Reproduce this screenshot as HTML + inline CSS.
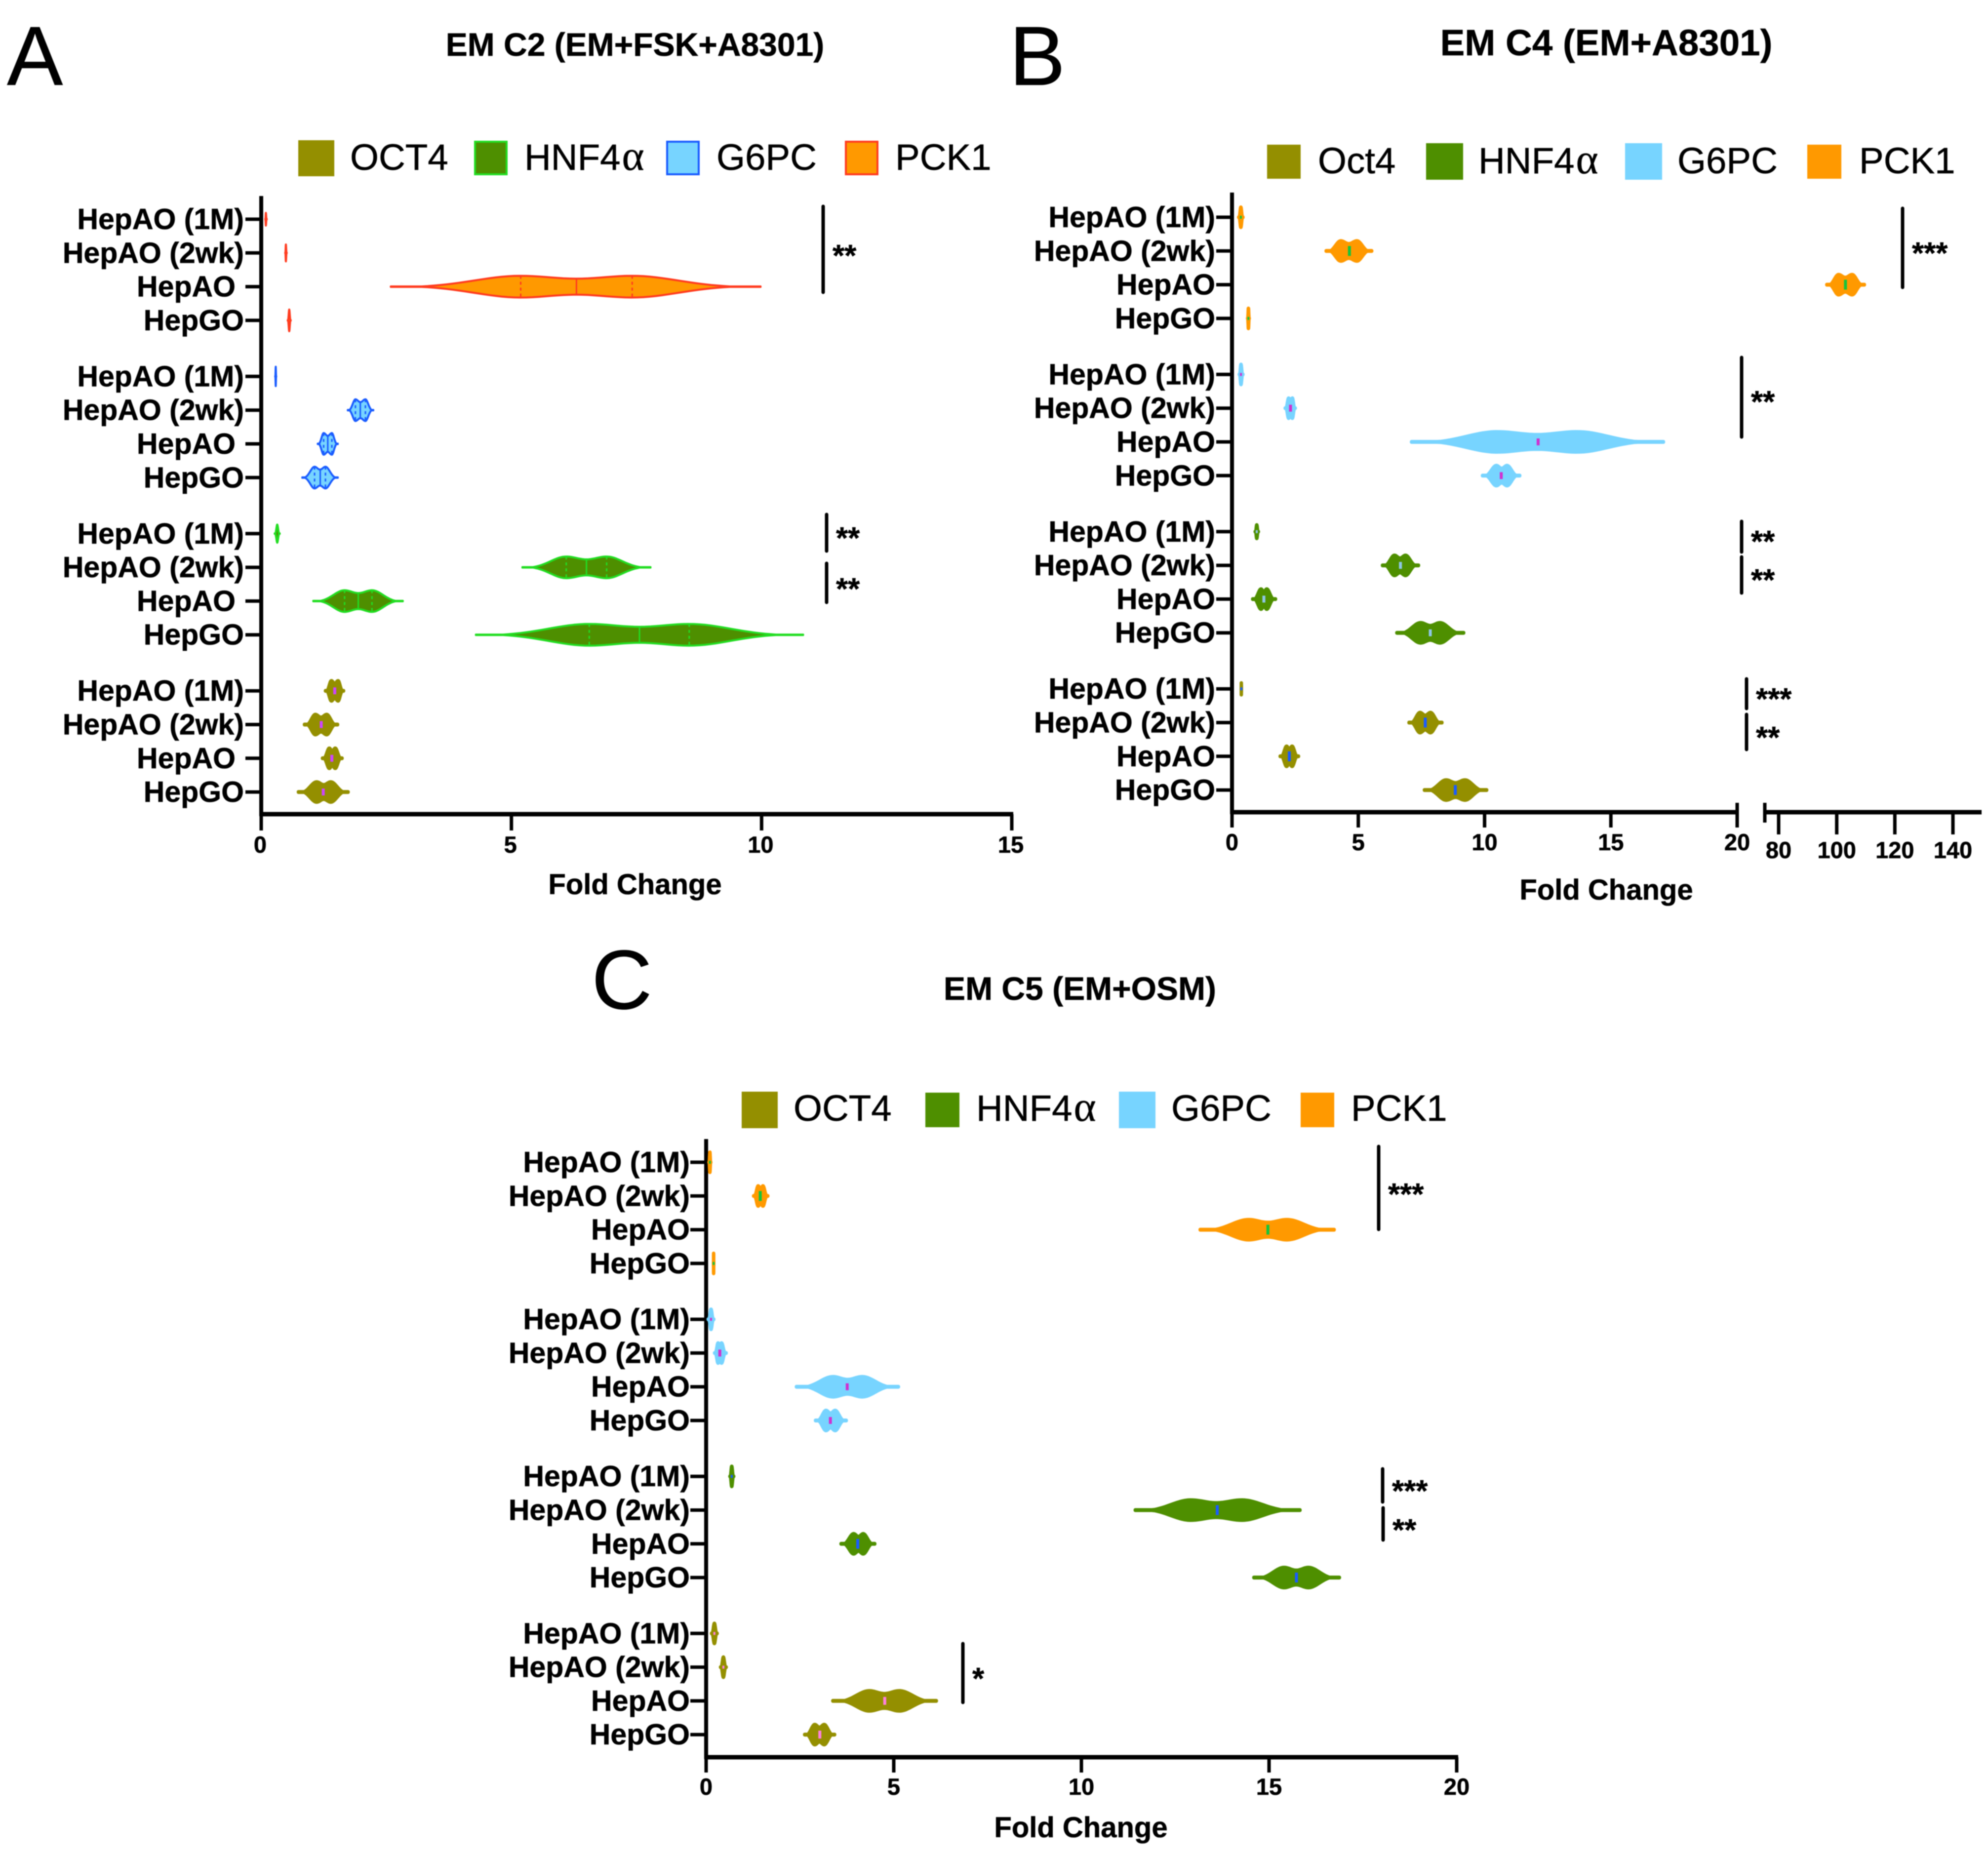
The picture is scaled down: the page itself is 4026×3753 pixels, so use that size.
<!DOCTYPE html>
<html lang="en">
<head>
<meta charset="utf-8">
<title>Fold change violin plots</title>
<style>
html,body{margin:0;padding:0;background:#fff;}
svg{display:block;filter:blur(1px);}
text{font-family:"Liberation Sans",sans-serif;fill:#000;stroke:#000;stroke-width:0.6px;}
.title{font-weight:bold;font-size:66px;text-anchor:middle;}
.panel{font-size:170px;}
.leg{font-size:74.5px;}
.a{font-family:"Liberation Serif",serif;font-size:86px;}
</style>
</head>
<body>
<svg id="fig" width="4026" height="3753" viewBox="0 0 4026 3753" xmlns="http://www.w3.org/2000/svg">
<rect width="4026" height="3753" fill="#fff"/>

<text class="panel" x="14" y="172">A</text>
<text class="panel" x="2044" y="172">B</text>
<text class="panel" x="1198" y="2043">C</text>

<text class="title" x="1286" y="113">EM C2 (EM+FSK+A8301)</text>
<text class="title" x="3253" y="112" style="font-size:74.5px">EM C4 (EM+A8301)</text>
<text class="title" x="2187" y="2025">EM C5 (EM+OSM)</text>

<g>
  <rect x="604" y="284" width="73" height="73" fill="#948f00"/>
  <text class="leg" x="709" y="344">OCT4</text>
  <rect x="962" y="287" width="64" height="66" fill="#4e8f00" stroke="#22dd22" stroke-width="4"/>
  <text class="leg" x="1062" y="344">HNF4<tspan class="a" dx="3">α</tspan></text>
  <rect x="1351" y="287" width="64" height="66" fill="#77d4ff" stroke="#1a5cff" stroke-width="4"/>
  <text class="leg" x="1451" y="344">G6PC</text>
  <rect x="1713" y="287" width="64" height="66" fill="#ff9900" stroke="#ff3b1f" stroke-width="4"/>
  <text class="leg" x="1813" y="344">PCK1</text>
</g>

<g>
  <rect x="2566" y="293" width="68" height="69" fill="#948f00"/>
  <text class="leg" x="2669" y="351">Oct4</text>
  <rect x="2888" y="290" width="75" height="74" fill="#4e8f00"/>
  <text class="leg" x="2994" y="351">HNF4<tspan class="a" dx="3">α</tspan></text>
  <rect x="3291" y="290" width="75" height="74" fill="#77d4ff"/>
  <text class="leg" x="3397" y="351">G6PC</text>
  <rect x="3660" y="293" width="69" height="69" fill="#ff9900"/>
  <text class="leg" x="3765" y="351">PCK1</text>
</g>

<g>
  <rect x="1502" y="2211" width="73" height="74" fill="#948f00"/>
  <text class="leg" x="1607" y="2270">OCT4</text>
  <rect x="1874" y="2213" width="69" height="70" fill="#4e8f00"/>
  <text class="leg" x="1977" y="2270">HNF4<tspan class="a" dx="3">α</tspan></text>
  <rect x="2266" y="2211" width="74" height="74" fill="#77d4ff"/>
  <text class="leg" x="2372" y="2270">G6PC</text>
  <rect x="2634" y="2213" width="68" height="70" fill="#ff9900"/>
  <text class="leg" x="2736" y="2270">PCK1</text>
</g>

<g id="charts"></g>
</svg>

<script>
// Categories and tick labels
const categories = ['HepAO (1M)', 'HepAO (2wk)', 'HepAO', 'HepGO'];
const genes = ['PCK1', 'G6PC', 'HNF4a', 'OCT4'];
const ticksA = [0, 5, 10, 15];
const ticksB = [0, 5, 10, 15, 20];
const ticksBUpper = [80, 100, 120, 140];
const ticksC = [0, 5, 10, 15, 20];

// Each violin: [min, lower mode, median, upper mode, max, relative width]
const panelA_PCK1 = [
  [0.06, 0.09, 0.09, 0.09, 0.13, 0.62],
  [0.46, 0.49, 0.49, 0.49, 0.53, 0.8],
  [2.57, 5.18, 6.30, 7.42, 10.0, 1],
  [0.51, 0.56, 0.56, 0.56, 0.61, 1]
];
const panelA_G6PC = [
  [0.26, 0.29, 0.29, 0.29, 0.32, 0.9],
  [1.71, 1.875, 1.98, 2.09, 2.26, 1],
  [1.11, 1.24, 1.33, 1.42, 1.55, 1],
  [0.80, 1.06, 1.18, 1.29, 1.55, 1]
];
const panelA_HNF4 = [
  [0.25, 0.32, 0.32, 0.32, 0.39, 0.85],
  [5.20, 6.09, 6.50, 6.91, 7.80, 1],
  [1.02, 1.66, 1.94, 2.22, 2.85, 1],
  [4.27, 6.55, 7.56, 8.56, 10.85, 1]
];
const panelA_OCT4 = [
  [1.25, 1.39, 1.47, 1.55, 1.68, 1],
  [0.83, 1.07, 1.20, 1.32, 1.56, 1],
  [1.19, 1.35, 1.41, 1.49, 1.65, 1],
  [0.71, 1.10, 1.24, 1.40, 1.77, 1]
];

const panelB_PCK1 = [
  [0.20, 0.35, 0.35, 0.35, 0.50, 1],
  [3.66, 4.28, 4.65, 4.97, 5.60, 1],
  [96.0, 100.4, 103.0, 105.5, 110.1, 1],
  [0.55, 0.65, 0.65, 0.65, 0.75, 1]
];
const panelB_G6PC = [
  [0.22, 0.35, 0.35, 0.35, 0.50, 1],
  [2.04, 2.22, 2.32, 2.42, 2.57, 1],
  [7.04, 10.48, 12.12, 13.69, 17.15, 1],
  [9.85, 10.45, 10.66, 10.91, 11.46, 1]
];
const panelB_HNF4 = [
  [0.85, 0.98, 0.98, 0.98, 1.11, 0.72],
  [5.89, 6.41, 6.67, 6.89, 7.45, 1],
  [0.75, 1.13, 1.26, 1.39, 1.79, 1],
  [6.46, 7.45, 7.85, 8.25, 9.24, 1]
];
const panelB_OCT4 = [
  [0.30, 0.37, 0.37, 0.37, 0.44, 0.65],
  [6.94, 7.42, 7.65, 7.88, 8.38, 1],
  [1.84, 2.14, 2.27, 2.40, 2.70, 1],
  [7.55, 8.46, 8.84, 9.24, 10.15, 1]
];

const panelC_PCK1 = [
  [0.03, 0.10, 0.10, 0.10, 0.17, 1],
  [1.22, 1.37, 1.44, 1.53, 1.69, 1],
  [13.12, 14.45, 14.97, 15.49, 16.78, 1],
  [0.15, 0.20, 0.20, 0.20, 0.25, 1]
];
const panelC_G6PC = [
  [0.01, 0.13, 0.13, 0.13, 0.25, 1],
  [0.18, 0.30, 0.36, 0.42, 0.58, 1],
  [2.36, 3.37, 3.76, 4.17, 5.17, 1],
  [2.87, 3.18, 3.31, 3.45, 3.78, 1]
];
const panelC_HNF4 = [
  [0.59, 0.68, 0.68, 0.68, 0.78, 1],
  [11.39, 12.90, 13.62, 14.29, 15.87, 1],
  [3.55, 3.92, 4.04, 4.20, 4.54, 1],
  [14.55, 15.39, 15.73, 16.06, 16.92, 1]
];
const panelC_OCT4 = [
  [0.10, 0.22, 0.22, 0.22, 0.34, 1],
  [0.34, 0.46, 0.46, 0.46, 0.58, 1],
  [3.33, 4.34, 4.76, 5.16, 6.18, 1],
  [2.58, 2.88, 3.03, 3.16, 3.47, 1]
];

const seriesA = [panelA_PCK1, panelA_G6PC, panelA_HNF4, panelA_OCT4];
const seriesB = [panelB_PCK1, panelB_G6PC, panelB_HNF4, panelB_OCT4];
const seriesC = [panelC_PCK1, panelC_G6PC, panelC_HNF4, panelC_OCT4];

const fills = ['#ff9900', '#77d4ff', '#4e8f00', '#948f00'];
const strokesA = ['#ff3b1f', '#1a5cff', '#22dd22', '#948f00'];
const mediansA = ['#ff3b1f', '#1a5cff', '#22dd22', '#cc44ff'];
const mediansB = ['#14c43c', '#d030d0', '#8fc7e8', '#1a5cff'];
const mediansC = ['#14c43c', '#d030d0', '#1a5cff', '#ff80e0'];

const NS = 'http://www.w3.org/2000/svg';
const root = document.getElementById('charts');
const MAXHALF = 24;
const WAIST = 0.24;
const TAILSIG = 2.8;

function mk(parent, tag, attrs) {
  const el = document.createElementNS(NS, tag);
  for (const k in attrs) el.setAttribute(k, attrs[k]);
  parent.appendChild(el);
  return el;
}

function taper(t) {
  return Math.exp(-Math.pow(t * TAILSIG, 2) / 2);
}

function density(v, d) {
  const min = d[0], lo = d[1], hi = d[3], max = d[4];
  if (v < lo) return taper((lo - v) / Math.max(lo - min, 1e-6));
  if (v > hi) return taper((v - hi) / Math.max(max - hi, 1e-6));
  if (hi - lo < 1e-6) return 1;
  const u = Math.abs(v - (lo + hi) / 2) / ((hi - lo) / 2);
  return 1 - WAIST * 0.5 * (1 + Math.cos(Math.PI * u));
}

function bodyHalf(v, d, sw) {
  const hm = MAXHALF * (d[5] === undefined ? 1 : d[5]);
  return Math.max(0.5, hm * density(v, d) - sw / 2);
}

function violinGeom(d, xScale, sw) {
  const a = xScale(d[0]), b = xScale(d[4]);
  let p = a + sw / 2, q = b - sw / 2;
  if (q < p) { p = q = (a + b) / 2; }
  return v => p + (xScale(v) - a) * (q - p) / Math.max(b - a, 1e-6);
}

function violinPath(d, xScale, cy, sw) {
  const n = 60, top = [], bottom = [];
  const mx = violinGeom(d, xScale, sw);
  for (let i = 0; i <= n; i++) {
    const v = d[0] + (d[4] - d[0]) * i / n;
    const h = bodyHalf(v, d, sw);
    const x = mx(v).toFixed(1);
    top.push(x + ',' + (cy - h).toFixed(1));
    bottom.unshift(x + ',' + (cy + h).toFixed(1));
  }
  return 'M' + top.join('L') + 'L' + bottom.join('L') + 'Z';
}

function drawPanel(cfg) {
  const g = mk(root, 'g', {});
  
  
  const rowY = (grp, row) => cfg.top + grp * cfg.groupStep + row * cfg.rowStep;

  const yAxis = mk(g, 'line', {x1: cfg.x0, x2: cfg.x0, y1: cfg.axisTop, y2: cfg.axisY + 4, stroke: '#000', 'stroke-width': 8});
  
  

  cfg.series.forEach((rows, grp) => {
    rows.forEach((d, row) => {
      const cy = rowY(grp, row);
      const tick = mk(g, 'line', {x1: cfg.x0 - 32, x2: cfg.x0, y1: cy, y2: cy, stroke: '#000', 'stroke-width': 7});
      
      
      const lx = cfg.labelX - (cfg.id === 'a' && categories[row] === 'HepAO' ? 17 : 0);
      const lab = mk(g, 'text', {x: lx, y: cy + 20, 'text-anchor': 'end', 'font-weight': 'bold', 'font-size': 59});
      lab.textContent = categories[row];
      
      

      const coloured = cfg.quartiles && grp < 3;
      const sw = coloured ? 4 : 7;
      const violin = mk(g, 'path', {d: violinPath(d, cfg.x, cy, sw), fill: fills[grp], stroke: cfg.strokes[grp], 'stroke-width': sw, 'stroke-linejoin': 'round'});
      
      

      const mx = violinGeom(d, cfg.x, sw);
      const single = d[3] - d[1] < 1e-6;
      if (coloured && !single) {
        [d[1], d[3]].forEach(q => {
          const qh = bodyHalf(q, d, sw);
          const ql = mk(g, 'line', {x1: mx(q), x2: mx(q), y1: cy - qh, y2: cy + qh, stroke: cfg.medians[grp], 'stroke-width': 3, 'stroke-dasharray': '6 6'});
          
          
        });
      }
      if (coloured && single) return;
      const hm = coloured ? bodyHalf(d[2], d, sw) : (single ? 3 : cfg.medianHalf[grp]);
      const med = mk(g, 'line', {x1: mx(d[2]), x2: mx(d[2]), y1: cy - hm, y2: cy + hm, stroke: cfg.medians[grp], 'stroke-width': coloured ? 3 : (single ? 4 : 6)});
      
      
    });
  });

  cfg.segments.forEach(s => {
    const ax = mk(g, 'line', {x1: s.from, x2: s.to, y1: cfg.axisY, y2: cfg.axisY, stroke: '#000', 'stroke-width': 9});
    
    
    s.ticks.forEach(t => {
      const tx = cfg.x(t);
      const tl = mk(g, 'line', {x1: tx, x2: tx, y1: cfg.axisY, y2: s.tickEnd, stroke: '#000', 'stroke-width': 7});
      
      
      const lb = mk(g, 'text', {x: tx + (cfg.labelDx || 0), y: s.labelY, 'text-anchor': 'middle', 'font-weight': 'bold', 'font-size': 47});
      lb.textContent = t;
      
      
    });
  });

  (cfg.breaks || []).forEach(bx => {
    const b = mk(g, 'line', {x1: bx, x2: bx, y1: cfg.axisY - 19, y2: cfg.axisY + 21, stroke: '#000', 'stroke-width': 7});
    
    
  });

  const xt = mk(g, 'text', {x: cfg.xTitleX, y: cfg.xTitleY, 'text-anchor': 'middle', 'font-weight': 'bold', 'font-size': 58});
  xt.textContent = 'Fold Change';
  
  

  cfg.sig.forEach(b => {
    const ln = mk(g, 'line', {x1: b[0], x2: b[0], y1: b[1], y2: b[2], stroke: '#000', 'stroke-width': 7, 'stroke-linecap': 'round'});
    
    
    const st = mk(g, 'text', {x: b[0] + 19, y: b[3] + 30, 'font-weight': 'bold', 'font-size': 62});
    st.textContent = b[4];
    
    
  });
}

const scaleA = v => 529 + v * (2049 - 529) / 15;
const scaleC = v => 1430 + v * (2950 - 1430) / 20;
const scaleB = v => v <= 20 ? 2495 + v * (3518 - 2495) / 20 : 3602 + (v - 80) * (3955 - 3602) / 60;

drawPanel({
  id: 'a', x0: 529, x: scaleA, series: seriesA, top: 444, rowStep: 68.3, groupStep: 318.4,
  axisTop: 397, axisY: 1649, labelX: 494, labelDx: -2, strokes: strokesA, medians: mediansA, quartiles: true,
  medianHalf: [7, 7, 7, 7],
  segments: [{from: 526, to: 2052, ticks: ticksA, tickEnd: 1682, labelY: 1727}],
  xTitleX: 1286, xTitleY: 1811,
  sig: [[1667, 418, 592, 509, '**'], [1674, 1042, 1116, 1081, '**'], [1674, 1141, 1220, 1184, '**']]
});
drawPanel({
  id: 'b', x0: 2495, x: scaleB, series: seriesB, top: 440, rowStep: 68.3, groupStep: 318.4,
  axisTop: 390, axisY: 1645, labelX: 2461, strokes: fills, medians: mediansB, quartiles: false,
  medianHalf: [10, 7, 7, 10],
  segments: [
    {from: 2492, to: 3518, ticks: ticksB, tickEnd: 1676, labelY: 1722},
    {from: 3574, to: 4013, ticks: ticksBUpper, tickEnd: 1690, labelY: 1738}
  ],
  breaks: [3518, 3574],
  xTitleX: 3253, xTitleY: 1822,
  sig: [[3853, 422, 582, 504, '***'], [3527, 724, 885, 805, '**'], [3527, 1056, 1118, 1088, '**'], [3527, 1128, 1201, 1166, '**'], [3537, 1375, 1435, 1407, '***'], [3537, 1447, 1518, 1485, '**']]
});
drawPanel({
  id: 'c', x0: 1430, x: scaleC, series: seriesC, top: 2354, rowStep: 68.3, groupStep: 318.1,
  axisTop: 2307, axisY: 3559, labelX: 1397, strokes: fills, medians: mediansC, quartiles: false,
  medianHalf: [10, 7, 10, 8],
  segments: [{from: 1427, to: 2953, ticks: ticksC, tickEnd: 3590, labelY: 3635}],
  xTitleX: 2189, xTitleY: 3721,
  sig: [[2792, 2322, 2490, 2410, '***'], [2800, 2975, 3042, 3011, '***'], [2801, 3054, 3119, 3090, '**'], [1950, 3329, 3448, 3391, '*']]
});
</script>
</body>
</html>
